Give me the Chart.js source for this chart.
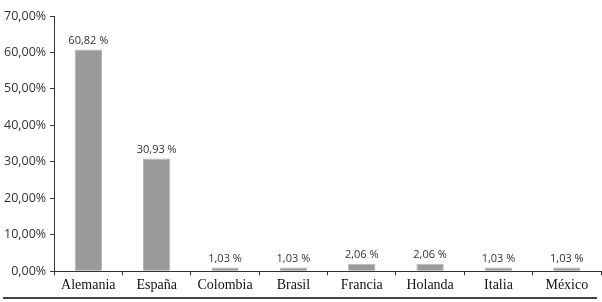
<!DOCTYPE html>
<html>
<head>
<meta charset="utf-8">
<script src="https://cdn.jsdelivr.net/npm/chart.js@4"></script>
<style>
  html, body { margin: 0; padding: 0; background: #fff; }
  #wrap { position: relative; width: 602px; height: 302px; }
  #rule { position: absolute; left: 3px; width: 594px; top: 297px; height: 0; border-top: 2px solid #444; }
</style>
</head>
<body>
<div id="wrap">
  <canvas id="c" width="602" height="302"></canvas>
  <div id="rule"></div>
</div>
<script>
const categories = ["Alemania", "España", "Colombia", "Brasil", "Francia", "Holanda", "Italia", "México"];
const values = [60.82, 30.93, 1.03, 1.03, 2.06, 2.06, 1.03, 1.03];
const valueLabels = ["60,82 %", "30,93 %", "1,03 %", "1,03 %", "2,06 %", "2,06 %", "1,03 %", "1,03 %"];
const yTickLabels = ["0,00%", "10,00%", "20,00%", "30,00%", "40,00%", "50,00%", "60,00%", "70,00%"];

const labelPlugin = {
  id: 'valueLabels',
  afterDatasetsDraw(chart) {
    const ctx = chart.ctx;
    const meta = chart.getDatasetMeta(0);
    ctx.save();
    ctx.font = '11px "Open Sans", sans-serif';
    ctx.fillStyle = '#333';
    ctx.textAlign = 'center';
    ctx.textBaseline = 'bottom';
    meta.data.forEach((bar, i) => {
      ctx.fillText(valueLabels[i], bar.x, bar.y - 3);
    });
    ctx.restore();
  }
};

new Chart(document.getElementById('c'), {
  type: 'bar',
  data: {
    labels: categories,
    datasets: [{
      data: values,
      backgroundColor: '#9a9a9c',
      borderColor: '#b4b4b6',
      borderWidth: 1,
      barPercentage: 0.4,
      categoryPercentage: 1.0
    }]
  },
  options: {
    responsive: false,
    animation: false,
    devicePixelRatio: 1,
    layout: { padding: { top: 16, right: 1, bottom: 6, left: 0 } },
    plugins: { legend: { display: false }, tooltip: { enabled: false } },
    scales: {
      x: {
        grid: { display: true, drawOnChartArea: false, offset: true, tickLength: 4, color: '#333', tickWidth: 1 },
        border: { display: true, color: '#333', width: 1 },
        ticks: { color: '#111', font: { family: '"Liberation Serif", serif', size: 14 }, padding: 2, maxRotation: 0, autoSkip: false }
      },
      y: {
        min: 0, max: 70,
        afterBuildTicks(axis) {
          axis.ticks = yTickLabels.map((_, i) => ({ value: i * 10 }));
        },
        grid: { display: true, drawOnChartArea: false, tickLength: 4, color: '#333' },
        border: { display: true, color: '#333', width: 1 },
        ticks: {
          color: '#333',
          font: { family: '"Open Sans", sans-serif', size: 12.5 },
          padding: 4,
          callback: (v, i) => yTickLabels[i]
        }
      }
    }
  },
  plugins: [labelPlugin]
});
</script>
</body>
</html>
